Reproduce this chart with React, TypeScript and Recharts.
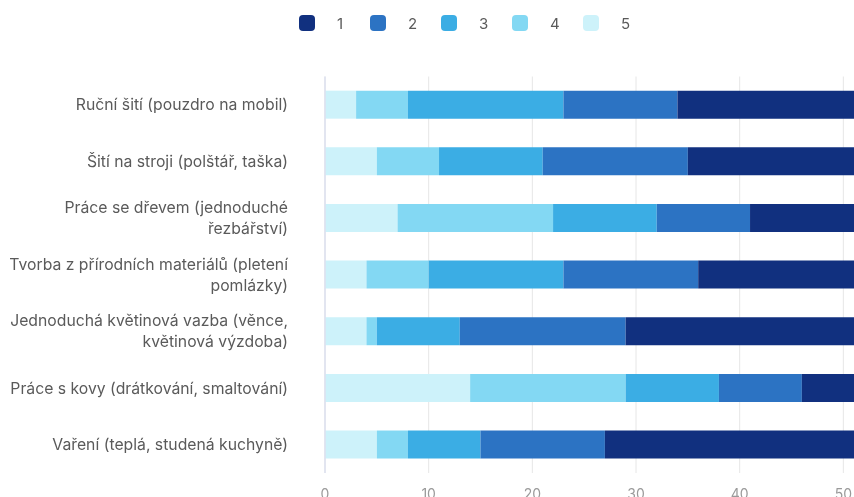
import React from 'react';
import { BarChart, Bar, XAxis, YAxis, CartesianGrid, Legend } from 'recharts';

const categories = [
  'Ruční šití (pouzdro na mobil)',
  'Šití na stroji (polštář, taška)',
  'Práce se dřevem (jednoduché\nřezbářství)',
  'Tvorba z přírodních materiálů (pletení\npomlázky)',
  'Jednoduchá květinová vazba (věnce,\nkvětinová výzdoba)',
  'Práce s kovy (drátkování, smaltování)',
  'Vaření (teplá, studená kuchyně)',
];

const series1 = [22, 21, 15, 20, 27, 10, 29];
const series2 = [11, 14, 9, 13, 16, 8, 12];
const series3 = [15, 10, 10, 13, 8, 9, 7];
const series4 = [5, 6, 15, 6, 1, 15, 3];
const series5 = [3, 5, 7, 4, 4, 14, 5];

const xTicks = [0, 10, 20, 30, 40, 50, 60];

const seriesNames = ['1', '2', '3', '4', '5'];
const seriesColors = ['#11307f', '#2c73c3', '#3bade4', '#83d8f3', '#cdf2fa'];

const data = categories.map((name, i) => ({
  name,
  s1: series1[i],
  s2: series2[i],
  s3: series3[i],
  s4: series4[i],
  s5: series5[i],
}));

const FONT = 'Inter, "Noto Sans", sans-serif';

const YTick = (props: any) => {
  const { x, y, payload } = props;
  const lines = String(payload.value).split('\n');
  const lh = 21;
  const start = -((lines.length - 1) * lh) / 2 + 5.5;
  return (
    <text x={x} y={y} textAnchor="end" fill="#5a5a5a" fontSize={15.75} fontFamily={FONT}>
      {lines.map((l, i) => (
        <tspan key={i} x={x} dy={i === 0 ? start : lh}>
          {l}
        </tspan>
      ))}
    </text>
  );
};

const renderLegend = () => (
  <div style={{ display: 'flex', alignItems: 'center', height: 30, fontFamily: FONT, fontSize: 15, color: '#5a5a5a' }}>
    {seriesNames.map((n, i) => (
      <div key={n} style={{ display: 'flex', alignItems: 'center', width: 71 }}>
        <div style={{ width: 16, height: 16, borderRadius: 4, background: seriesColors[i], marginRight: 22 }} />
        <span>{n}</span>
      </div>
    ))}
  </div>
);

export default function App() {
  return (
    <div style={{ position: 'fixed', left: 8, top: 8, width: 846, height: 489, overflow: 'hidden' }}>
      <BarChart
        layout="vertical"
        width={939}
        height={520}
        data={data}
        margin={{ top: 38.5, right: 0, bottom: 25, left: 0 }}
        barCategoryGap="25%"
      >
        <Legend
          verticalAlign="top"
          content={renderLegend}
          wrapperStyle={{ top: 0, left: 291, width: 'auto', height: 30 }}
        />
        <CartesianGrid horizontal={false} stroke="#e6e6e6" />
        <XAxis
          type="number"
          domain={[0, 60]}
          ticks={xTicks}
          axisLine={false}
          tickLine={false}
          tickMargin={10}
          tick={{ fill: '#9a9a9a', fontSize: 14, fontFamily: FONT }}
        />
        <YAxis
          type="category"
          dataKey="name"
          width={317}
          axisLine={{ stroke: '#dce1ef', strokeWidth: 1.5 }}
          tickLine={false}
          tickMargin={31}
          tick={<YTick />}
          interval={0}
        />
        <Bar dataKey="s5" name="5" stackId="a" fill={seriesColors[4]} isAnimationActive={false} />
        <Bar dataKey="s4" name="4" stackId="a" fill={seriesColors[3]} isAnimationActive={false} />
        <Bar dataKey="s3" name="3" stackId="a" fill={seriesColors[2]} isAnimationActive={false} />
        <Bar dataKey="s2" name="2" stackId="a" fill={seriesColors[1]} isAnimationActive={false} />
        <Bar dataKey="s1" name="1" stackId="a" fill={seriesColors[0]} isAnimationActive={false} />
      </BarChart>
    </div>
  );
}
